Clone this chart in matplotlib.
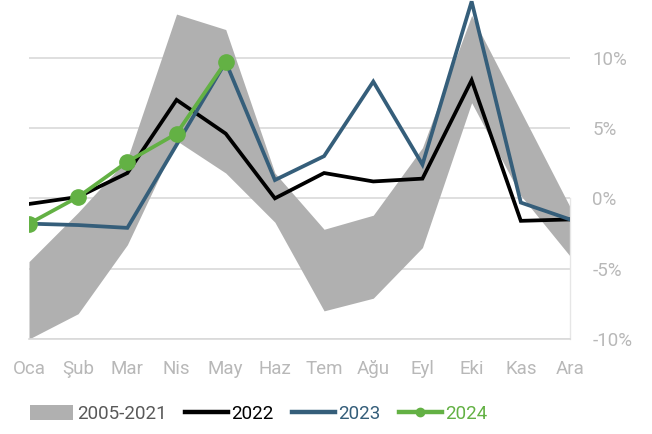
import matplotlib
matplotlib.use("Agg")
import matplotlib.pyplot as plt
from matplotlib.patches import Patch
from matplotlib.lines import Line2D

months = ["Oca", "Şub", "Mar", "Nis", "May", "Haz", "Tem", "Ağu", "Eyl", "Eki", "Kas", "Ara"]
band_upper = [-4.5, -1.0, 2.8, 13.1, 12.0, 1.8, -2.2, -1.2, 3.6, 13.0, 6.2, -0.6]
band_lower = [-10.0, -8.2, -3.3, 4.1, 1.8, -1.7, -8.0, -7.1, -3.5, 6.8, 0.2, -4.1]
y2022 = [-0.4, 0.1, 1.8, 7.0, 4.6, 0.0, 1.8, 1.2, 1.4, 8.4, -1.6, -1.5]
y2023 = [-1.8, -1.9, -2.1, 3.8, 9.7, 1.3, 3.0, 8.3, 2.4, 14.0, -0.3, -1.5]
y2024 = [-1.8, 0.1, 2.6, 4.6, 9.7]
yticks = [-10, -5, 0, 5, 10]
ytick_labels = ["-10%", "-5%", "0%", "5%", "10%"]

c_band = "#b0b0b0"
c_2022 = "#000000"
c_2023 = "#355e7a"
c_2024 = "#63b144"
c_text = "#b8b8b8"

plt.rcParams['font.family'] = ['Roboto', 'DejaVu Sans']

fig = plt.figure(figsize=(6.52, 4.34), dpi=100)
ax = fig.add_axes([29/652, 1 - 339/434, (570-29)/652, 339/434])

x = list(range(len(months)))
ax.fill_between(x, band_lower, band_upper, color=c_band, linewidth=0, zorder=1)
ax.plot(x, y2022, color=c_2022, lw=2.7, zorder=3, solid_joinstyle='miter')
ax.plot(x, y2023, color=c_2023, lw=2.7, zorder=4, solid_joinstyle='miter')
ax.plot(x[:len(y2024)], y2024, color=c_2024, lw=2.7, marker='o', markersize=11, zorder=5)

ax.set_xlim(0, 11)
ax.set_ylim(-10, 14.1)
ax.set_yticks(yticks)
ax.set_yticklabels(ytick_labels)
ax.set_xticks(x)
ax.set_xticklabels(months)
ax.yaxis.tick_right()
ax.grid(axis='y', color='#d9d9d9', lw=1.2, zorder=0)
ax.set_axisbelow(True)
for s in ['top', 'left']:
    ax.spines[s].set_visible(False)
ax.spines['bottom'].set_color('#d9d9d9')
ax.spines['bottom'].set_linewidth(1.2)
ax.spines['right'].set_color('#e6e6e6')
ax.spines['right'].set_linewidth(1.0)
ax.spines['right'].set_bounds(-10, 0)
ax.tick_params(axis='both', length=0, labelsize=13.5, colors=c_text)
ax.tick_params(axis='x', pad=15)
ax.tick_params(axis='y', pad=16)

handles = [
    Patch(facecolor=c_band, edgecolor='none'),
    Line2D([0], [0], color=c_2022, lw=3.2),
    Line2D([0], [0], color=c_2023, lw=3.2),
    Line2D([0], [0], color=c_2024, lw=3.2, marker='o', markersize=6),
]
labels = ["2005-2021", "2022", "2023", "2024"]
leg = fig.legend(handles, labels, loc='center', bbox_to_anchor=(259/652, 1 - 414/434), ncol=4,
                 frameon=False, fontsize=13.5, handlelength=2.3, handleheight=0.8,
                 handletextpad=0.2, columnspacing=0.95)
for t, c in zip(leg.get_texts(), ["#595959", c_2022, c_2023, c_2024]):
    t.set_color(c)

fig.savefig("out.png", dpi=100)
